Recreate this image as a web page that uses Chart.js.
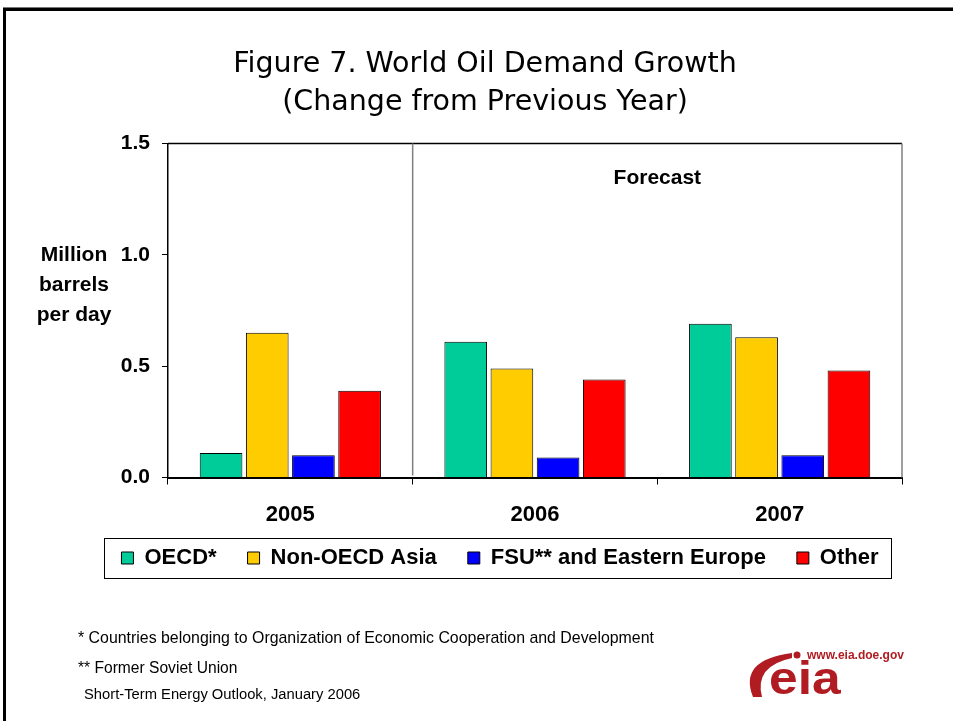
<!DOCTYPE html>
<html><head><meta charset="utf-8">
<script src="https://cdn.jsdelivr.net/npm/chart.js@4.4.1/dist/chart.umd.min.js"></script>
<style>html,body{margin:0;padding:0;background:#fff;} #wrap{position:relative;width:953px;height:721px;}</style>
</head><body><div id="wrap"><canvas id="c"></canvas></div>
<script>
const categories = ['2005', '2006', '2007'];
const seriesNames = ['OECD*', 'Non-OECD Asia', 'FSU** and Eastern Europe', 'Other'];
const oecd = [0.11, 0.61, 0.69];
const nonOecdAsia = [0.65, 0.49, 0.63];
const fsuEasternEurope = [0.10, 0.09, 0.10];
const other = [0.39, 0.44, 0.48];
const yTickValues = [0, 0.5, 1.0, 1.5];
const titleLines = ['Figure 7. World Oil Demand Growth', '(Change from Previous Year)'];
const yAxisTitleLines = ['Million', 'barrels', 'per day'];
const forecastLabel = 'Forecast';
const footnotes = ['* Countries belonging to Organization of Economic Cooperation and Development', '** Former Soviet Union'];
const sourceNote = 'Short-Term Energy Outlook, January 2006';
const logoUrl = 'www.eia.doe.gov';
const logoText = 'eia';

const seriesColors = ['#00CC99', '#FFCC00', '#0000FF', '#FF0000'];
const seriesValues = [oecd, nonOecdAsia, fsuEasternEurope, other];

Chart.defaults.font.family = '"Liberation Sans", Arial, sans-serif';
Chart.defaults.color = '#000';

const LEGEND_NUDGE_X = 15;
const LEGEND_NUDGE_Y = -13.5;

const framePlugin = {
  id: 'frame',
  beforeDraw(chart) {
    const ctx = chart.ctx;
    ctx.save();
    ctx.fillStyle = '#fff';
    ctx.fillRect(0, 0, chart.width, chart.height);
    ctx.fillStyle = '#777';
    ctx.fillRect(3, 7, chart.width - 3, 1);
    ctx.fillStyle = '#000';
    ctx.fillRect(3, 8, chart.width - 3, 3);
    ctx.fillRect(3, 8, 3, chart.height - 8);
    ctx.restore();
  },
  afterLayout(chart) {
    const l = chart.legend;
    if (l) {
      l.left += LEGEND_NUDGE_X; l.right += LEGEND_NUDGE_X;
      l.top += LEGEND_NUDGE_Y; l.bottom += LEGEND_NUDGE_Y;
    }
  },
  beforeDatasetsDraw(chart) {
    const ctx = chart.ctx, a = chart.chartArea, xs = chart.scales.x;
    ctx.save();
    ctx.strokeStyle = '#000';
    ctx.lineWidth = 1.5;
    ctx.beginPath();
    ctx.moveTo(a.left, a.top); ctx.lineTo(a.right, a.top);
    ctx.stroke();
    ctx.strokeStyle = '#808080';
    ctx.lineWidth = 1.5;
    ctx.beginPath();
    ctx.moveTo(a.right, a.top); ctx.lineTo(a.right, a.bottom);
    const div = (xs.getPixelForValue(0) + xs.getPixelForValue(1)) / 2;
    ctx.moveTo(div, a.top); ctx.lineTo(div, a.bottom - 2);
    ctx.stroke();
    ctx.restore();
  },
  afterDraw(chart) {
    const ctx = chart.ctx, a = chart.chartArea, xs = chart.scales.x, ys = chart.scales.y;
    ctx.save();
    ctx.fillStyle = '#000';
    const div = (xs.getPixelForValue(0) + xs.getPixelForValue(1)) / 2;
    ctx.font = 'bold 21px "Liberation Sans"';
    ctx.textAlign = 'center';
    ctx.textBaseline = 'middle';
    ctx.fillText(forecastLabel, (div + a.right) / 2, a.top + 35);
    const y1 = ys.getPixelForValue(1.0);
    yAxisTitleLines.forEach((t, i) => ctx.fillText(t, 74, y1 + i * 30));
    const lg = chart.legend;
    if (lg && lg.legendHitBoxes && lg.legendHitBoxes.length) {
      const hb = lg.legendHitBoxes;
      const first = hb[0], last = hb[hb.length - 1];
      const cy = first.top + first.height / 2;
      ctx.strokeStyle = '#000';
      ctx.lineWidth = 1;
      ctx.strokeRect(Math.round(first.left - 17) + 0.5, Math.round(cy - 20) + 0.5,
        Math.round(last.left + last.width + 13 - (first.left - 17)), 40);
    }
    ctx.textAlign = 'left';
    ctx.font = '15.9px "Liberation Sans"';
    ctx.fillText(footnotes[0], 78, 639);
    ctx.font = '15.6px "Liberation Sans"';
    ctx.fillText(footnotes[1], 78, 669);
    ctx.font = '14.75px "Liberation Sans"';
    ctx.fillText(sourceNote, 84, 695);
    // logo
    const red = '#B11C22';
    ctx.fillStyle = red;
    ctx.font = 'bold 12px "Liberation Sans"';
    ctx.fillText(logoUrl, 807, 656);
    ctx.beginPath();
    ctx.arc(797, 655, 3.5, 0, Math.PI * 2);
    ctx.fill();
    ctx.beginPath();
    ctx.moveTo(753, 697);
    ctx.quadraticCurveTo(738, 660, 792, 653);
    ctx.lineTo(792, 658);
    ctx.quadraticCurveTo(754, 666, 762, 697);
    ctx.closePath();
    ctx.fill();
    ctx.save();
    ctx.translate(769, 694);
    ctx.scale(1.12, 1);
    ctx.font = 'bold 46px "Liberation Sans"';
    ctx.textBaseline = 'alphabetic';
    ctx.fillText(logoText, 0, 0);
    ctx.restore();
    ctx.restore();
  }
};

const datasets = seriesNames.map((name, i) => ({
  label: name,
  data: seriesValues[i],
  backgroundColor: seriesColors[i],
  borderColor: '#000',
  borderWidth: 1,
  categoryPercentage: 0.755,
  barPercentage: 0.924
}));

new Chart(document.getElementById('c'), {
  type: 'bar',
  data: { labels: categories, datasets },
  options: {
    responsive: true,
    maintainAspectRatio: false,
    animation: false,
    layout: { padding: { left: 68, right: 51, top: 0, bottom: 128.5 } },
    plugins: {
      title: {
        display: true,
        text: titleLines,
        color: '#000',
        font: { family: '"DejaVu Sans"', size: 28.5, weight: 'normal', lineHeight: '38px' },
        padding: { top: 46, bottom: 21.5 }
      },
      legend: {
        display: true,
        position: 'bottom',
        labels: {
          boxWidth: 12,
          boxHeight: 12,
          padding: 31,
          color: '#000',
          font: { size: 22, weight: 'bold' }
        }
      },
      tooltip: { enabled: false }
    },
    scales: {
      x: {
        grid: { display: true, drawOnChartArea: false, drawTicks: true, tickLength: 7, color: '#000', offset: true },
        border: { display: true, color: '#000', width: 2 },
        ticks: { font: { size: 22, weight: 'bold' }, color: '#000', padding: 17 },
        afterFit(s) { s.height = 52; }
      },
      y: {
        min: 0,
        max: 1.5,
        afterBuildTicks(s) { s.ticks = yTickValues.map(v => ({ value: v })); },
        grid: { display: true, drawOnChartArea: false, drawTicks: true, tickLength: 6, color: '#000' },
        border: { display: true, color: '#000', width: 1.5 },
        ticks: { font: { size: 21, weight: 'bold' }, color: '#000', padding: 12, callback: v => Number(v).toFixed(1) },
        afterFit(s) { s.width = 100; }
      }
    }
  },
  plugins: [framePlugin]
});
</script>
</body></html>
